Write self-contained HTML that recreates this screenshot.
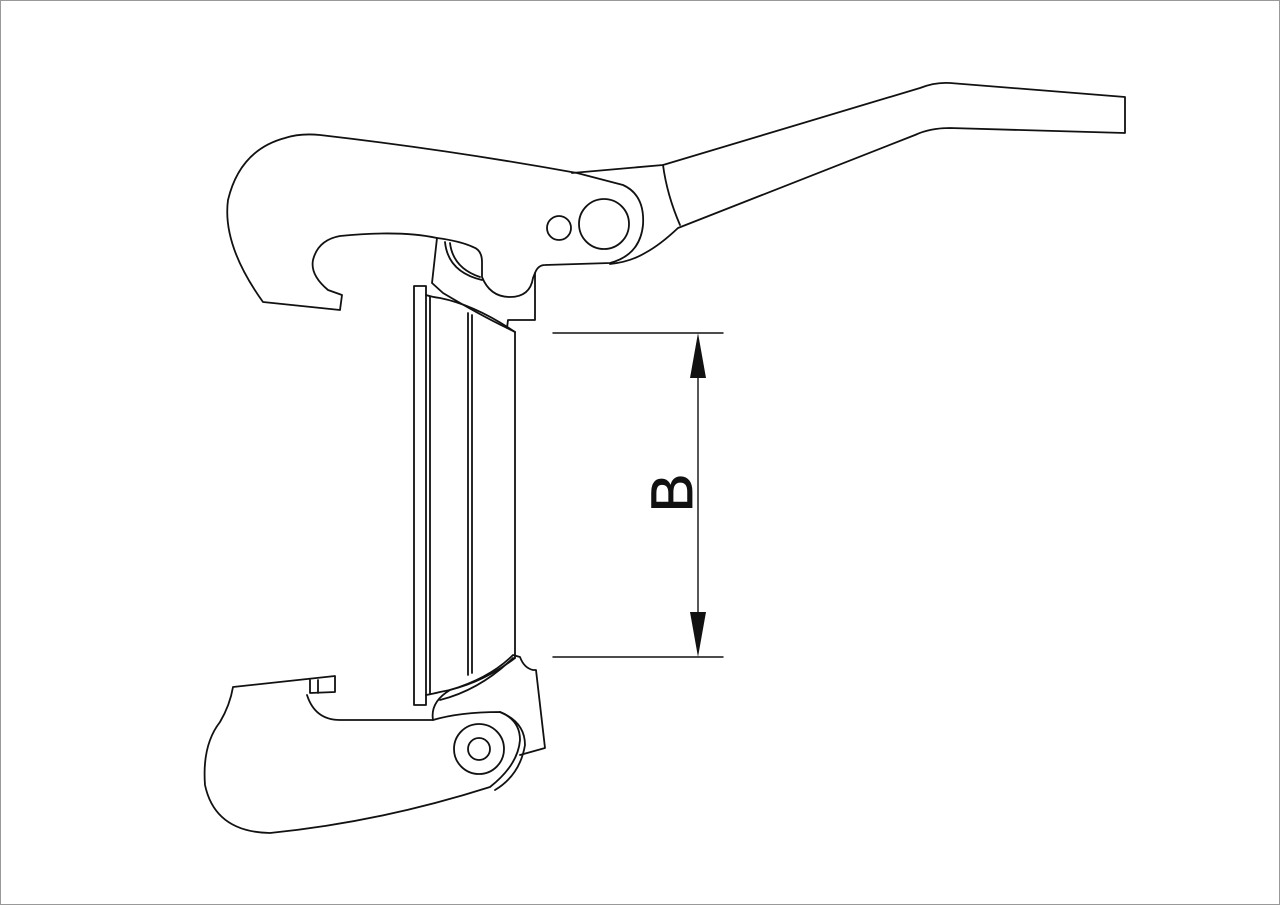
<!DOCTYPE html>
<html><head><meta charset="utf-8"><style>
html,body{margin:0;padding:0;background:#fff;}
svg{display:block;}
</style></head><body>
<svg width="1280" height="905" viewBox="0 0 1280 905" xmlns="http://www.w3.org/2000/svg">
<rect x="0.5" y="0.5" width="1279" height="904" fill="#fff" stroke="#999" stroke-width="1"/>
<g fill="none" stroke="#111" stroke-width="1.8" stroke-linejoin="round" stroke-linecap="round">
<!-- lever -->
<path d="M572,173 L663,165 L920,88 Q935,82 950,83 L1125,97 L1125,133 L950,128 Q930,128 915,135 L678,228 Q660,245 645,253 Q630,262 610,264"/>
<path d="M663,165 Q667,195 680,225"/>
<!-- top hook -->
<path d="M263,302 L340,310 L342,295 L328,290 Q310,275 313,260 Q318,240 340,236 Q400,230 437,238 Q460,241 473,247 Q482,250 482,262 L482,277 Q490,297 510,297 Q530,297 533,278 L535,273 Q538,265 545,265 L610,263 Q640,255 643,225 Q645,195 623,185 L577,173 Q450,150 320,135 Q300,133 285,138 Q240,150 228,200 Q222,245 263,302 Z"/>
<circle cx="559" cy="228" r="12"/>
<circle cx="604" cy="224" r="25"/>
<!-- top latch -->
<path d="M437,238 L432,283 L443,293 Q480,315 507,328 L508,320 L535,320 L535,273"/>
<path d="M450,243 Q453,268 480,277"/>
<path d="M445,242 Q448,272 482,280"/>
<!-- seal ring -->
<path d="M414,286 L426,286 L426,705 L414,705 Z"/>
<path d="M430,297 L430,693"/>
<path d="M426,295 Q432,297 440,298 Q475,305 515,332"/>
<path d="M426,695 Q432,694 440,692 Q480,685 515,658"/>
<path d="M468,313 L468,675"/><path d="M472,315 L472,673"/>
<path d="M515,332 L515,658"/>
<path d="M507,328 L515,332"/>
<!-- bottom hook -->
<path d="M233,687 L335,676 L335,692 L310,693 L310,680 M307,695 Q315,720 340,720 L433,720 Q460,712 500,712 Q520,720 520,740 Q518,765 490,787 Q380,822 270,833 Q215,832 205,785 Q202,745 220,722 Q230,705 233,687"/>
<path d="M318,680 L318,693"/>
<path d="M433,720 Q430,702 450,690 Q490,678 513,655 L520,657 Q524,668 533,670 L536,670 L545,748 L520,755"/>
<path d="M440,700 Q480,690 513,658"/>
<path d="M500,712 Q525,722 525,745 Q520,775 495,790"/>
<circle cx="479" cy="749" r="25"/>
<circle cx="479" cy="749" r="11"/>
<!-- dimension -->
<path d="M553,333 L723,333 M553,657 L723,657 M698,345 L698,645" stroke-width="1.4"/>
</g>
<polygon points="698,333 690,378 706,378" fill="#111"/>
<polygon points="698,657 690,612 706,612" fill="#111"/>
<text x="0" y="0" transform="translate(692,493) rotate(-90)" text-anchor="middle" font-family="Liberation Sans, sans-serif" font-size="58" fill="#111" stroke="#111" stroke-width="0.8">B</text>
</svg>
</body></html>
